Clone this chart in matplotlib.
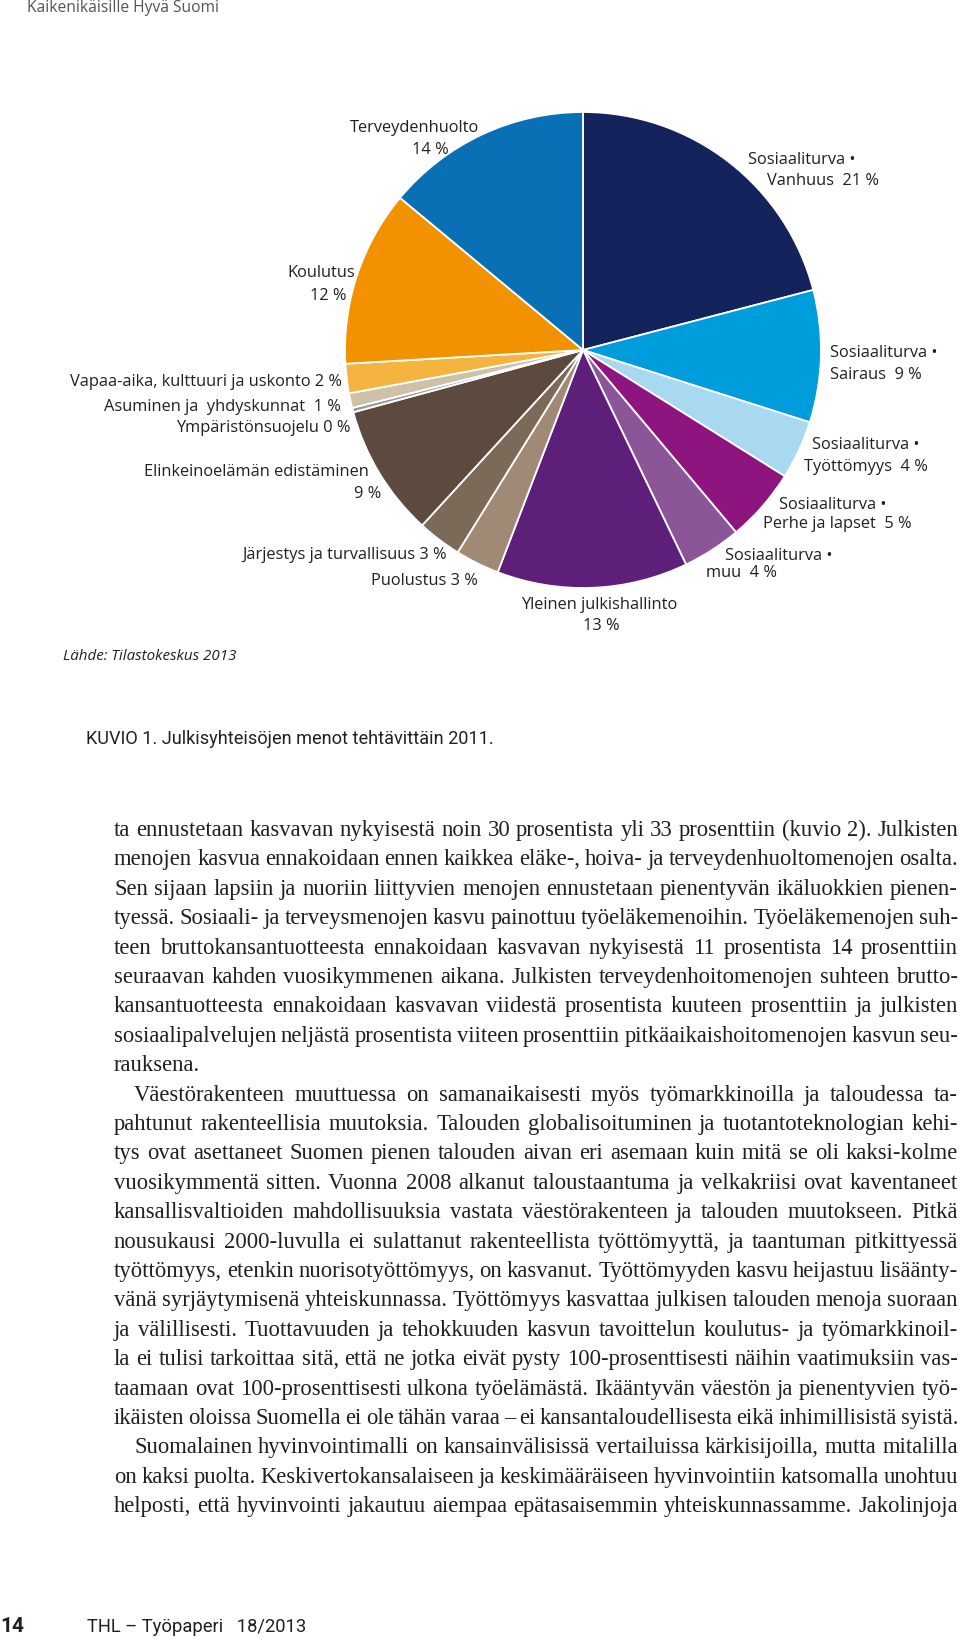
import matplotlib
matplotlib.use("Agg")
import matplotlib.pyplot as plt
import numpy as np

# ---- chart data -------------------------------------------------------------
categories = [
    "Sosiaaliturva • Vanhuus", "Sosiaaliturva • Sairaus", "Sosiaaliturva • Työttömyys",
    "Sosiaaliturva • Perhe ja lapset", "Sosiaaliturva • muu", "Yleinen julkishallinto",
    "Puolustus", "Järjestys ja turvallisuus", "Elinkeinoelämän edistäminen",
    "Ympäristönsuojelu", "Asuminen ja yhdyskunnat", "Vapaa-aika, kulttuuri ja uskonto",
    "Koulutus", "Terveydenhuolto",
]
shares = [21, 9, 4, 5, 4, 13, 3, 3, 9, 0.3, 1, 2, 12, 14]   # 0 % slice drawn as a sliver
pct_labels = ["21 %", "9 %", "4 %", "5 %", "4 %", "13 %", "3 %", "3 %", "9 %",
              "0 %", "1 %", "2 %", "12 %", "14 %"]
colors = ["#15235c", "#009ddc", "#a9d9f1", "#8e1580", "#8b5597", "#5e1f7b",
          "#a08a76", "#7b6a58", "#5c4a3f", "#9a9a9a", "#cdc2a8", "#f5b340",
          "#f39200", "#0a70b5"]

caption = "KUVIO 1. Julkisyhteisöjen menot tehtävittäin 2011."
source = "Lähde: Tilastokeskus 2013"
header = "Kaikenikäisille Hyvä Suomi"

body_lines = [
    "ta ennustetaan kasvavan nykyisestä noin 30 prosentista yli 33 prosenttiin (kuvio 2). Julkisten",
    "menojen kasvua ennakoidaan ennen kaikkea eläke-, hoiva- ja terveydenhuoltomenojen osalta.",
    "Sen sijaan lapsiin ja nuoriin liittyvien menojen ennustetaan pienentyvän ikäluokkien pienen-",
    "tyessä. Sosiaali- ja terveysmenojen kasvu painottuu työeläkemenoihin. Työeläkemenojen suh-",
    "teen bruttokansantuotteesta ennakoidaan kasvavan nykyisestä 11 prosentista 14 prosenttiin",
    "seuraavan kahden vuosikymmenen aikana. Julkisten terveydenhoitomenojen suhteen brutto-",
    "kansantuotteesta ennakoidaan kasvavan viidestä prosentista kuuteen prosenttiin ja julkisten",
    "sosiaalipalvelujen neljästä prosentista viiteen prosenttiin pitkäaikaishoitomenojen kasvun seu-",
    "rauksena.",
    "Väestörakenteen muuttuessa on samanaikaisesti myös työmarkkinoilla ja taloudessa  ta-",
    "pahtunut rakenteellisia muutoksia. Talouden globalisoituminen ja tuotantoteknologian kehi-",
    "tys ovat asettaneet Suomen pienen talouden aivan eri asemaan kuin mitä se oli kaksi-kolme",
    "vuosikymmentä sitten. Vuonna 2008 alkanut taloustaantuma ja velkakriisi ovat kaventaneet",
    "kansallisvaltioiden mahdollisuuksia vastata väestörakenteen ja talouden muutokseen. Pitkä",
    "nousukausi 2000-luvulla ei sulattanut rakenteellista työttömyyttä, ja taantuman pitkittyessä",
    "työttömyys, etenkin nuorisotyöttömyys, on kasvanut. Työttömyyden kasvu heijastuu lisäänty-",
    "vänä syrjäytymisenä yhteiskunnassa. Työttömyys kasvattaa julkisen talouden menoja suoraan",
    "ja välillisesti. Tuottavuuden ja tehokkuuden kasvun tavoittelun koulutus- ja työmarkkinoil-",
    "la ei tulisi tarkoittaa sitä, että ne jotka eivät pysty 100-prosenttisesti näihin vaatimuksiin vas-",
    "taamaan ovat 100-prosenttisesti ulkona työelämästä. Ikääntyvän väestön ja pienentyvien työ-",
    "ikäisten oloissa Suomella ei ole tähän varaa – ei kansantaloudellisesta eikä inhimillisistä syistä.",
    "Suomalainen hyvinvointimalli on kansainvälisissä vertailuissa kärkisijoilla, mutta mitalilla",
    "on kaksi puolta. Keskivertokansalaiseen ja keskimääräiseen hyvinvointiin katsomalla unohtuu",
    "helposti, että hyvinvointi jakautuu aiempaa epätasaisemmin yhteiskunnassamme. Jakolinjoja",
]
indent_lines = [9, 21]      # paragraph starts
ragged_lines = [8]          # last line of a paragraph, not justified

# ---- layout (page pixels) ----------------------------------------------------
W, H = 960, 1639
cx, cy, r = 583, 350, 238
LABEL_FONT = ["Open Sans", "DejaVu Sans"]
NARROW_FONT = ["Roboto", "DejaVu Sans"]
SERIF_FONT = ["Liberation Serif", "DejaVu Serif"]
ink = "#231f20"

fig = plt.figure(figsize=(W / 100, H / 100), dpi=100)
fig.patch.set_facecolor("white")

# pie axes: square box around the pie centre
ax = fig.add_axes([(cx - r) / W, (H - cy - r) / H, 2 * r / W, 2 * r / H])
ax.pie(shares, colors=colors, startangle=90, counterclock=False, radius=1,
       wedgeprops=dict(edgecolor="white", linewidth=1.3))
ax.set_xlim(-1, 1)
ax.set_ylim(-1, 1)
ax.set_aspect("auto")
ax.axis("off")

# overlay axes in page pixel coordinates
tax = fig.add_axes([0, 0, 1, 1], facecolor="none")
tax.set_xlim(0, W)
tax.set_ylim(H, 0)
tax.axis("off")


def label(txt, x, y, ha="left", size=11.8, **kw):
    return tax.text(x, y, txt, ha=ha, va="center", fontsize=size, color=ink,
                    family=LABEL_FONT, **kw)


# slice labels, one entry per text line: (text, x, y, ha)
soc = "Sosiaaliturva •"
label_lines = [
    (soc, 748, 160, "left"), ("Vanhuus  " + pct_labels[0], 767, 181, "left"),
    (soc, 830, 353, "left"), ("Sairaus  " + pct_labels[1], 830, 375, "left"),
    (soc, 812, 445, "left"), ("Työttömyys  " + pct_labels[2], 804, 467, "left"),
    (soc, 779, 505, "left"), ("Perhe ja lapset  " + pct_labels[3], 763, 524, "left"),
    (soc, 725, 556, "left"), ("muu  " + pct_labels[4], 706, 573, "left"),
    (categories[5], 599, 605, "center"), (pct_labels[5], 601, 626, "center"),
    (categories[6] + " " + pct_labels[6], 478, 581, "right"),
    (categories[7] + " " + pct_labels[7], 447, 555, "right"),
    (categories[8], 369, 472, "right"), (pct_labels[8], 381, 494, "right"),
    (categories[9] + " " + pct_labels[9], 351, 428, "right"),
    ("Asuminen ja  yhdyskunnat  " + pct_labels[10], 341, 407, "right"),
    (categories[11] + " " + pct_labels[11], 342, 382, "right"),
    (categories[12], 355, 273, "right"), (pct_labels[12], 347, 296, "right"),
    (categories[13], 415, 128, "center"), (pct_labels[13], 430, 150, "center"),
]
for txt, x, y, ha in label_lines:
    label(txt, x, y, ha)

label(source, 63, 657, size=10.9, style="italic")

# page furniture
head = tax.text(27, 8, header, ha="left", va="center", fontsize=11.2,
                color="#555555", family=LABEL_FONT)
cap = tax.text(86, 739, caption, ha="left", va="center", fontsize=13,
               color=ink, family=NARROW_FONT)
tax.text(0, 1627, "14", ha="left", va="center", fontsize=15, color=ink,
         family=NARROW_FONT, weight="bold")
foot = tax.text(87, 1627, "THL – Työpaperi   18/2013", ha="left", va="center",
                fontsize=13, color=ink, family=NARROW_FONT)

fig.canvas.draw()
renderer = fig.canvas.get_renderer()


def fit_width(t, target):
    w = t.get_window_extent(renderer).width
    t.set_fontsize(t.get_fontsize() * target / w)


fit_width(cap, 406)
fit_width(foot, 218)
fit_width(head, 192)

# justified body text
left, right = 114, 958
base0, step = 836, 29.4
indent = 20


def line_start(i):
    return left + (indent if i in indent_lines else 0)


# body size picked so most lines only need a little extra word spacing
size0 = 14.6
ratios = []
for i, line in enumerate(body_lines):
    if i in ragged_lines:
        continue
    t = tax.text(0, 0, line, fontsize=size0, family=SERIF_FONT)
    w = t.get_window_extent(renderer).width
    t.remove()
    ratios.append((right - line_start(i)) / w)
body_size = size0 * np.percentile(ratios, 30)

for i, line in enumerate(body_lines):
    y = base0 + i * step
    x0 = line_start(i)
    words = line.split()
    size = body_size
    while True:
        texts = [tax.text(0, y, w, ha="left", va="baseline", fontsize=size,
                          color=ink, family=SERIF_FONT) for w in words]
        widths = [t.get_window_extent(renderer).width for t in texts]
        if i in ragged_lines or len(words) == 1:
            gap = size * 0.35
            break
        gap = (right - x0 - sum(widths)) / (len(words) - 1)
        if gap >= size * 0.2:
            break
        # tight line: set it a touch smaller, as a typesetter would squeeze it
        for t in texts:
            t.remove()
        size *= 0.99
    x = x0
    for t, w in zip(texts, widths):
        t.set_x(x)
        x += w + gap

fig.savefig("out.png", dpi=100, facecolor="white")
